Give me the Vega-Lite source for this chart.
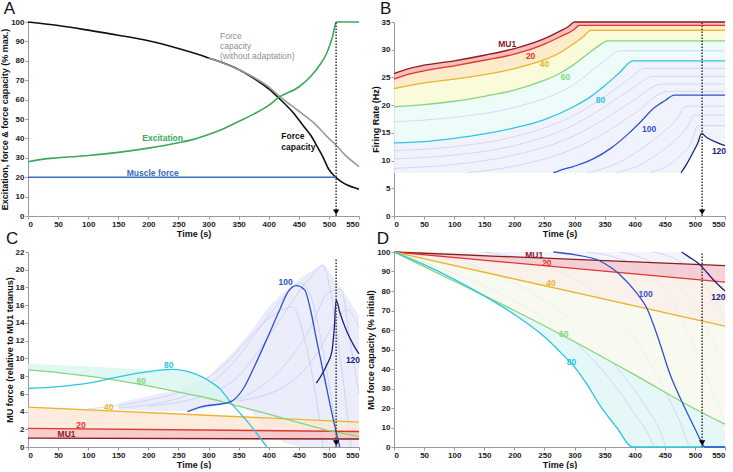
{
"$schema": "https://vega.github.io/schema/vega-lite/v6.json",
"background": "white",
"padding": {"left": 0, "top": 0, "right": 2, "bottom": 0},
"bounds": "flush",
"columns": 2,
"spacing": {"row": 36, "column": 35},
"datasets": {
"A": [
{"s":"Force","t":0,"v":100},{"s":"Force","t":50,"v":98.2},{"s":"Force","t":100,"v":95.8},{"s":"Force","t":150,"v":93.2},{"s":"Force","t":200,"v":90.3},{"s":"Force","t":250,"v":86.3},{"s":"Force","t":300,"v":81.5},{"s":"Force","t":350,"v":75.5},{"s":"Force","t":375,"v":71},{"s":"Force","t":400,"v":65.5},{"s":"Force","t":416,"v":61},{"s":"Force","t":440,"v":53.5},{"s":"Force","t":460,"v":45.5},{"s":"Force","t":470,"v":41.5},{"s":"Force","t":482,"v":35},{"s":"Force","t":490,"v":30.5},{"s":"Force","t":499,"v":24.5},{"s":"Force","t":505,"v":22},{"s":"Force","t":512,"v":19.8},{"s":"Force","t":525,"v":16.8},{"s":"Force","t":540,"v":14.8},{"s":"Force","t":550,"v":13.8},
{"s":"ForceNA","t":300,"v":81.5},{"s":"ForceNA","t":350,"v":75.5},{"s":"ForceNA","t":375,"v":71.5},{"s":"ForceNA","t":400,"v":66.5},{"s":"ForceNA","t":416,"v":62.2},{"s":"ForceNA","t":450,"v":54},{"s":"ForceNA","t":475,"v":48},{"s":"ForceNA","t":500,"v":40},{"s":"ForceNA","t":512,"v":36.5},{"s":"ForceNA","t":525,"v":32},{"s":"ForceNA","t":550,"v":25.5},
{"s":"Exc","t":0,"v":28},{"s":"Exc","t":25,"v":29.3},{"s":"Exc","t":50,"v":30},{"s":"Exc","t":100,"v":31.2},{"s":"Exc","t":150,"v":32.8},{"s":"Exc","t":200,"v":35},{"s":"Exc","t":250,"v":37.8},{"s":"Exc","t":275,"v":39.5},{"s":"Exc","t":300,"v":42},{"s":"Exc","t":325,"v":45},{"s":"Exc","t":350,"v":48.7},{"s":"Exc","t":375,"v":52.5},{"s":"Exc","t":400,"v":57},{"s":"Exc","t":416,"v":61},{"s":"Exc","t":450,"v":66.5},{"s":"Exc","t":470,"v":72},{"s":"Exc","t":485,"v":78},{"s":"Exc","t":495,"v":83},{"s":"Exc","t":502,"v":88.5},{"s":"Exc","t":507,"v":93.5},{"s":"Exc","t":510,"v":98},{"s":"Exc","t":512,"v":100},{"s":"Exc","t":550,"v":100},
{"s":"Muscle","t":0,"v":20},{"s":"Muscle","t":512,"v":20}
],
"Alab": [
{"s":"ForceNA","t":319,"v":92.7,"text":"Force"},{"s":"ForceNA","t":319,"v":87.6,"text":"capacity"},{"s":"ForceNA","t":319,"v":82.4,"text":"(without adaptation)"},
{"s":"Exc","t":190,"v":40.4,"text":"Excitation"},
{"s":"Force","t":421,"v":41,"text":"Force"},{"s":"Force","t":421,"v":35.5,"text":"capacity"},
{"s":"Muscle","t":164,"v":22.3,"text":"Muscle force"}
],
"B": [
{"s":"MU1","t":0,"v":25.7},{"s":"MU1","t":25,"v":26.6},{"s":"MU1","t":50,"v":27.2},{"s":"MU1","t":100,"v":28},{"s":"MU1","t":150,"v":29},{"s":"MU1","t":200,"v":30.2},{"s":"MU1","t":225,"v":31},{"s":"MU1","t":250,"v":32},{"s":"MU1","t":275,"v":33.3},{"s":"MU1","t":290,"v":34.2},{"s":"MU1","t":300,"v":35},{"s":"MU1","t":550,"v":35},
{"s":"MU20","t":0,"v":24.7},{"s":"MU20","t":25,"v":25.6},{"s":"MU20","t":50,"v":26.2},{"s":"MU20","t":100,"v":27.1},{"s":"MU20","t":150,"v":28.1},{"s":"MU20","t":200,"v":29.2},{"s":"MU20","t":250,"v":31},{"s":"MU20","t":275,"v":32.3},{"s":"MU20","t":300,"v":33.7},{"s":"MU20","t":308,"v":34.4},{"s":"MU20","t":550,"v":34.4},
{"s":"MU40","t":0,"v":23},{"s":"MU40","t":50,"v":24},{"s":"MU40","t":100,"v":24.7},{"s":"MU40","t":150,"v":25.5},{"s":"MU40","t":200,"v":26.6},{"s":"MU40","t":250,"v":28.2},{"s":"MU40","t":275,"v":29.4},{"s":"MU40","t":300,"v":31.2},{"s":"MU40","t":315,"v":32.4},{"s":"MU40","t":327,"v":33.5},{"s":"MU40","t":550,"v":33.5},
{"s":"MU60","t":0,"v":19.7},{"s":"MU60","t":50,"v":20.1},{"s":"MU60","t":100,"v":20.7},{"s":"MU60","t":150,"v":21.6},{"s":"MU60","t":200,"v":22.7},{"s":"MU60","t":250,"v":24.5},{"s":"MU60","t":275,"v":25.7},{"s":"MU60","t":300,"v":27.4},{"s":"MU60","t":325,"v":29.5},{"s":"MU60","t":340,"v":30.7},{"s":"MU60","t":355,"v":31.6},{"s":"MU60","t":550,"v":31.6},
{"s":"MU80","t":0,"v":13.2},{"s":"MU80","t":50,"v":13.4},{"s":"MU80","t":100,"v":14},{"s":"MU80","t":150,"v":14.8},{"s":"MU80","t":200,"v":15.9},{"s":"MU80","t":250,"v":17.4},{"s":"MU80","t":300,"v":19.8},{"s":"MU80","t":325,"v":21.4},{"s":"MU80","t":350,"v":23.5},{"s":"MU80","t":375,"v":25.9},{"s":"MU80","t":397,"v":28},{"s":"MU80","t":550,"v":28},
{"s":"MU100","t":265,"v":7.8},{"s":"MU100","t":275,"v":8.2},{"s":"MU100","t":300,"v":9},{"s":"MU100","t":331,"v":10.3},{"s":"MU100","t":360,"v":12.2},{"s":"MU100","t":386,"v":14.5},{"s":"MU100","t":410,"v":17},{"s":"MU100","t":430,"v":19.3},{"s":"MU100","t":450,"v":20.8},{"s":"MU100","t":466,"v":21.8},{"s":"MU100","t":550,"v":21.8},
{"s":"MU120","t":477,"v":7.8},{"s":"MU120","t":487,"v":9.5},{"s":"MU120","t":497,"v":11.5},{"s":"MU120","t":505,"v":13.2},{"s":"MU120","t":511,"v":14.9},{"s":"MU120","t":519,"v":14.2},{"s":"MU120","t":536,"v":13.3},{"s":"MU120","t":550,"v":12.7}
],
"Blab": [
{"s":"MU1","t":188,"v":31,"text":"MU1"},{"s":"MU20","t":227,"v":28.9,"text":"20"},{"s":"MU40","t":250,"v":27.4,"text":"40"},{"s":"MU60","t":285,"v":25,"text":"60"},{"s":"MU80","t":343,"v":21,"text":"80"},{"s":"MU100","t":424,"v":15.7,"text":"100"},{"s":"MU120","t":540,"v":11.8,"text":"120"}
],
"Bband": [
{"t":0,"a":25.7,"b":24.7,"c":23,"d":19.7,"e":13.2},
{"t":50,"a":27.2,"b":26.2,"c":24,"d":20.1,"e":13.4},
{"t":100,"a":28,"b":27.1,"c":24.7,"d":20.7,"e":14},
{"t":150,"a":29,"b":28.1,"c":25.5,"d":21.6,"e":14.8},
{"t":200,"a":30.2,"b":29.2,"c":26.6,"d":22.7,"e":15.9},
{"t":250,"a":32,"b":31,"c":28.2,"d":24.5,"e":17.4},
{"t":275,"a":33.3,"b":32.3,"c":29.4,"d":25.7,"e":18.5},
{"t":300,"a":35,"b":33.7,"c":31.2,"d":27.4,"e":19.8},
{"t":310,"a":35,"b":34.4,"c":32,"d":28.2,"e":20.4},
{"t":327,"a":35,"b":34.4,"c":33.5,"d":29.6,"e":21.5},
{"t":355,"a":35,"b":34.4,"c":33.5,"d":31.6,"e":24},
{"t":397,"a":35,"b":34.4,"c":33.5,"d":31.6,"e":28},
{"t":550,"a":35,"b":34.4,"c":33.5,"d":31.6,"e":28}
],
"Blow": [
{"t":0,"lo":7.8,"hi":13.2},{"t":50,"lo":7.8,"hi":13.4},{"t":100,"lo":7.8,"hi":14},{"t":150,"lo":7.8,"hi":14.8},{"t":200,"lo":7.8,"hi":15.9},{"t":250,"lo":7.8,"hi":17.4},{"t":300,"lo":7.8,"hi":19.8},{"t":327,"lo":7.8,"hi":21.5},{"t":355,"lo":7.8,"hi":24},{"t":397,"lo":7.8,"hi":28},{"t":477,"lo":7.8,"hi":28},{"t":487,"lo":9.5,"hi":28},{"t":497,"lo":11.5,"hi":28},{"t":505,"lo":13.2,"hi":28},{"t":511,"lo":14.9,"hi":28},{"t":519,"lo":14.2,"hi":28},{"t":536,"lo":13.3,"hi":28},{"t":550,"lo":12.7,"hi":28}
],
"Bbg": [
{"id":"b70","t":0,"v":17},{"id":"b70","t":100,"v":17.8},{"id":"b70","t":200,"v":19.6},{"id":"b70","t":300,"v":23.8},{"id":"b70","t":350,"v":28},{"id":"b70","t":375,"v":29.8},{"id":"b70","t":550,"v":29.8},
{"id":"b85","t":0,"v":11.8},{"id":"b85","t":100,"v":12.5},{"id":"b85","t":200,"v":14.3},{"id":"b85","t":300,"v":18.2},{"id":"b85","t":350,"v":21.5},{"id":"b85","t":400,"v":25.5},{"id":"b85","t":415,"v":26.6},{"id":"b85","t":550,"v":26.6},
{"id":"b90","t":0,"v":10.3},{"id":"b90","t":100,"v":11},{"id":"b90","t":200,"v":12.7},{"id":"b90","t":300,"v":16.5},{"id":"b90","t":350,"v":19.7},{"id":"b90","t":400,"v":23.3},{"id":"b90","t":430,"v":25.2},{"id":"b90","t":550,"v":25.2},
{"id":"b95","t":0,"v":8.6},{"id":"b95","t":100,"v":9.3},{"id":"b95","t":200,"v":11},{"id":"b95","t":300,"v":14.5},{"id":"b95","t":350,"v":17.5},{"id":"b95","t":400,"v":21},{"id":"b95","t":445,"v":23.8},{"id":"b95","t":550,"v":23.8},
{"id":"b98","t":120,"v":7.8},{"id":"b98","t":200,"v":9},{"id":"b98","t":300,"v":12.2},{"id":"b98","t":350,"v":15},{"id":"b98","t":400,"v":18.5},{"id":"b98","t":455,"v":22.5},{"id":"b98","t":550,"v":22.5},
{"id":"b105","t":320,"v":7.8},{"id":"b105","t":360,"v":9},{"id":"b105","t":400,"v":11.3},{"id":"b105","t":440,"v":14.5},{"id":"b105","t":470,"v":17.5},{"id":"b105","t":485,"v":19.8},{"id":"b105","t":550,"v":19.8},
{"id":"b110","t":370,"v":7.8},{"id":"b110","t":400,"v":8.8},{"id":"b110","t":440,"v":11.3},{"id":"b110","t":470,"v":14},{"id":"b110","t":490,"v":16.5},{"id":"b110","t":498,"v":18.2},{"id":"b110","t":550,"v":18.2},
{"id":"b115","t":425,"v":7.8},{"id":"b115","t":450,"v":8.8},{"id":"b115","t":475,"v":10.8},{"id":"b115","t":495,"v":13.5},{"id":"b115","t":505,"v":16.3},{"id":"b115","t":550,"v":16.3}
],
"C": [
{"s":"MU1","t":0,"v":1.0},{"s":"MU1","t":550,"v":0.9},
{"s":"MU20","t":0,"v":2.1},{"s":"MU20","t":550,"v":1.75},
{"s":"MU40","t":0,"v":4.5},{"s":"MU40","t":550,"v":2.8},
{"s":"MU60","t":0,"v":8.7},{"s":"MU60","t":50,"v":8.4},{"s":"MU60","t":100,"v":8.0},{"s":"MU60","t":150,"v":7.5},{"s":"MU60","t":200,"v":6.9},{"s":"MU60","t":250,"v":6.2},{"s":"MU60","t":300,"v":5.5},{"s":"MU60","t":350,"v":4.6},{"s":"MU60","t":400,"v":3.7},{"s":"MU60","t":450,"v":2.75},{"s":"MU60","t":500,"v":1.85},{"s":"MU60","t":550,"v":1.2},
{"s":"MU80","t":0,"v":6.6},{"s":"MU80","t":50,"v":6.8},{"s":"MU80","t":100,"v":7.2},{"s":"MU80","t":150,"v":7.9},{"s":"MU80","t":200,"v":8.5},{"s":"MU80","t":240,"v":8.75},{"s":"MU80","t":260,"v":8.6},{"s":"MU80","t":280,"v":8.2},{"s":"MU80","t":300,"v":7.5},{"s":"MU80","t":320,"v":6.5},{"s":"MU80","t":336,"v":5.1},{"s":"MU80","t":369,"v":2.5},{"s":"MU80","t":397,"v":0},
{"s":"MU100","t":265,"v":4.0},{"s":"MU100","t":286,"v":4.5},{"s":"MU100","t":336,"v":5.1},{"s":"MU100","t":358,"v":6.6},{"s":"MU100","t":377,"v":9.2},{"s":"MU100","t":397,"v":12.2},{"s":"MU100","t":419,"v":15.6},{"s":"MU100","t":432,"v":17.5},{"s":"MU100","t":446,"v":18.2},{"s":"MU100","t":460,"v":17.7},{"s":"MU100","t":469,"v":15.6},{"s":"MU100","t":480,"v":11.9},{"s":"MU100","t":493,"v":7.7},{"s":"MU100","t":507,"v":3.2},{"s":"MU100","t":518,"v":0},
{"s":"MU120","t":479,"v":7.2},{"s":"MU120","t":496,"v":9.2},{"s":"MU120","t":505,"v":10.8},{"s":"MU120","t":509,"v":13.5},{"s":"MU120","t":512,"v":16.6},{"s":"MU120","t":518,"v":15.2},{"s":"MU120","t":530,"v":13},{"s":"MU120","t":541,"v":11.5},{"s":"MU120","t":550,"v":10.5}
],
"Clab": [
{"s":"MU1","t":64,"v":1.45,"text":"MU1"},{"s":"MU20","t":88,"v":2.45,"text":"20"},{"s":"MU40","t":134,"v":4.5,"text":"40"},{"s":"MU60","t":188,"v":7.4,"text":"60"},{"s":"MU80","t":234,"v":9.2,"text":"80"},{"s":"MU100","t":428,"v":18.6,"text":"100"},{"s":"MU120","t":540,"v":9.8,"text":"120"}
],
"Cband": [
{"band":"pink","t":0,"lo":1.0,"hi":2.1},{"band":"pink","t":550,"lo":0.9,"hi":1.75},
{"band":"peach","t":0,"lo":2.1,"hi":4.5},{"band":"peach","t":550,"lo":1.75,"hi":2.8},
{"band":"cyan","t":0,"lo":8.7,"hi":9.4},{"band":"cyan","t":100,"lo":8.0,"hi":9.1},{"band":"cyan","t":200,"lo":6.9,"hi":8.7},{"band":"cyan","t":240,"lo":6.45,"hi":8.75},{"band":"cyan","t":280,"lo":5.8,"hi":8.2},{"band":"cyan","t":300,"lo":5.5,"hi":7.5},{"band":"cyan","t":320,"lo":5.15,"hi":6.5},{"band":"cyan","t":336,"lo":4.9,"hi":5.1},
{"band":"mesh","t":150,"lo":4.2,"hi":5.0},{"band":"mesh","t":250,"lo":4.0,"hi":6.5},{"band":"mesh","t":300,"lo":4.4,"hi":8.0},{"band":"mesh","t":341,"lo":5.0,"hi":10.7},{"band":"mesh","t":370,"lo":4.0,"hi":13.0},{"band":"mesh","t":397,"lo":2.0,"hi":15.6},{"band":"mesh","t":425,"lo":0.5,"hi":17.5},{"band":"mesh","t":452,"lo":0,"hi":19.0},{"band":"mesh","t":490,"lo":0,"hi":20.7},{"band":"mesh","t":520,"lo":0,"hi":18.0},{"band":"mesh","t":550,"lo":0,"hi":14.8}
],
"Cbg": [
{"id":"m1","t":150,"v":4.4},{"id":"m1","t":250,"v":5.5},{"id":"m1","t":300,"v":7},{"id":"m1","t":341,"v":9.5},{"id":"m1","t":380,"v":13},{"id":"m1","t":420,"v":16.5},{"id":"m1","t":452,"v":18.5},{"id":"m1","t":470,"v":17},{"id":"m1","t":490,"v":11},{"id":"m1","t":505,"v":5},{"id":"m1","t":515,"v":0},
{"id":"m2","t":200,"v":4.6},{"id":"m2","t":300,"v":6},{"id":"m2","t":350,"v":8},{"id":"m2","t":390,"v":11.5},{"id":"m2","t":430,"v":15.5},{"id":"m2","t":470,"v":19.2},{"id":"m2","t":490,"v":20.5},{"id":"m2","t":500,"v":18.5},{"id":"m2","t":515,"v":12},{"id":"m2","t":530,"v":4},{"id":"m2","t":537,"v":0},
{"id":"m3","t":300,"v":4.6},{"id":"m3","t":380,"v":6.5},{"id":"m3","t":430,"v":9.5},{"id":"m3","t":470,"v":13.5},{"id":"m3","t":500,"v":17.5},{"id":"m3","t":520,"v":17.8},{"id":"m3","t":535,"v":12},{"id":"m3","t":550,"v":6},
{"id":"m4","t":350,"v":5.2},{"id":"m4","t":430,"v":7},{"id":"m4","t":480,"v":10.5},{"id":"m4","t":510,"v":14},{"id":"m4","t":530,"v":15.5},{"id":"m4","t":550,"v":13.5},
{"id":"m5","t":100,"v":4.3},{"id":"m5","t":200,"v":5.3},{"id":"m5","t":280,"v":7},{"id":"m5","t":330,"v":9.5},{"id":"m5","t":370,"v":12.5},{"id":"m5","t":410,"v":15},{"id":"m5","t":440,"v":15.8},{"id":"m5","t":460,"v":12},{"id":"m5","t":480,"v":5},{"id":"m5","t":490,"v":0}
],
"D": [
{"s":"MU1","t":0,"v":100},{"s":"MU1","t":550,"v":93},
{"s":"MU20","t":0,"v":100},{"s":"MU20","t":550,"v":84.5},
{"s":"MU40","t":0,"v":100},{"s":"MU40","t":550,"v":62},
{"s":"MU60","t":0,"v":100},{"s":"MU60","t":100,"v":85},{"s":"MU60","t":200,"v":70},{"s":"MU60","t":300,"v":54},{"s":"MU60","t":400,"v":37},{"s":"MU60","t":500,"v":19.5},{"s":"MU60","t":550,"v":11.7},
{"s":"MU80","t":0,"v":100},{"s":"MU80","t":50,"v":93.5},{"s":"MU80","t":100,"v":86},{"s":"MU80","t":150,"v":77.5},{"s":"MU80","t":200,"v":68},{"s":"MU80","t":250,"v":56.5},{"s":"MU80","t":280,"v":47.5},{"s":"MU80","t":300,"v":41},{"s":"MU80","t":320,"v":32.5},{"s":"MU80","t":342,"v":21.5},{"s":"MU80","t":370,"v":10},{"s":"MU80","t":397,"v":0},{"s":"MU80","t":550,"v":0},
{"s":"MU100","t":265,"v":100},{"s":"MU100","t":300,"v":98.6},{"s":"MU100","t":342,"v":95.4},{"s":"MU100","t":375,"v":88.5},{"s":"MU100","t":403,"v":79},{"s":"MU100","t":420,"v":71.3},{"s":"MU100","t":439,"v":55.8},{"s":"MU100","t":459,"v":37},{"s":"MU100","t":481,"v":21.5},{"s":"MU100","t":500,"v":9.4},{"s":"MU100","t":511,"v":2.6},{"s":"MU100","t":517,"v":0},{"s":"MU100","t":550,"v":0},
{"s":"MU120","t":478,"v":100},{"s":"MU120","t":490,"v":97.5},{"s":"MU120","t":508,"v":93.6},{"s":"MU120","t":520,"v":89.5},{"s":"MU120","t":533,"v":85},{"s":"MU120","t":550,"v":80}
],
"Dlab": [
{"s":"MU1","t":233,"v":98.5,"text":"MU1"},{"s":"MU20","t":254,"v":94.2,"text":"20"},{"s":"MU40","t":261,"v":84,"text":"40"},{"s":"MU60","t":282,"v":58.1,"text":"60"},{"s":"MU80","t":295,"v":43.5,"text":"80"},{"s":"MU100","t":418,"v":78.4,"text":"100"},{"s":"MU120","t":539,"v":77,"text":"120"}
],
"Dband": [
{"band":"lav1","t":0,"lo":100,"hi":100},{"band":"lav1","t":50,"lo":93.5,"hi":100},{"band":"lav1","t":100,"lo":86,"hi":100},{"band":"lav1","t":150,"lo":77.5,"hi":100},{"band":"lav1","t":200,"lo":68,"hi":100},{"band":"lav1","t":250,"lo":56.5,"hi":100},{"band":"lav1","t":265,"lo":52,"hi":100},{"band":"lav1","t":300,"lo":41,"hi":98.6},{"band":"lav1","t":342,"lo":21.5,"hi":95.4},{"band":"lav1","t":375,"lo":7,"hi":88.5},{"band":"lav1","t":397,"lo":0,"hi":81},{"band":"lav1","t":420,"lo":0,"hi":71.3},{"band":"lav1","t":439,"lo":0,"hi":55.8},{"band":"lav1","t":459,"lo":0,"hi":37},{"band":"lav1","t":481,"lo":0,"hi":21.5},{"band":"lav1","t":500,"lo":0,"hi":9.4},{"band":"lav1","t":511,"lo":0,"hi":2.6},{"band":"lav1","t":517,"lo":0,"hi":0},
{"band":"lav2","t":265,"lo":100,"hi":100},{"band":"lav2","t":300,"lo":98.6,"hi":100},{"band":"lav2","t":342,"lo":95.4,"hi":100},{"band":"lav2","t":375,"lo":88.5,"hi":100},{"band":"lav2","t":403,"lo":79,"hi":100},{"band":"lav2","t":420,"lo":71.3,"hi":100},{"band":"lav2","t":439,"lo":55.8,"hi":100},{"band":"lav2","t":459,"lo":37,"hi":100},{"band":"lav2","t":478,"lo":23,"hi":100},{"band":"lav2","t":490,"lo":15.5,"hi":97.5},{"band":"lav2","t":500,"lo":9.4,"hi":95.5},{"band":"lav2","t":511,"lo":2.6,"hi":93},{"band":"lav2","t":517,"lo":0,"hi":91.3},{"band":"lav2","t":533,"lo":0,"hi":85},{"band":"lav2","t":550,"lo":0,"hi":80},
{"band":"cyan","t":0,"lo":100,"hi":100},{"band":"cyan","t":50,"lo":93.5,"hi":92.5},{"band":"cyan","t":100,"lo":86,"hi":85},{"band":"cyan","t":150,"lo":77.5,"hi":77.5},{"band":"cyan","t":200,"lo":68,"hi":70},{"band":"cyan","t":250,"lo":56.5,"hi":62},{"band":"cyan","t":300,"lo":41,"hi":54},{"band":"cyan","t":342,"lo":21.5,"hi":46.9},{"band":"cyan","t":370,"lo":10,"hi":42.1},{"band":"cyan","t":397,"lo":0,"hi":37.5},{"band":"cyan","t":450,"lo":0,"hi":28.3},{"band":"cyan","t":500,"lo":0,"hi":19.5},{"band":"cyan","t":550,"lo":0,"hi":11.7},
{"band":"yg","t":0,"lo":100,"hi":100},{"band":"yg","t":100,"lo":85,"hi":93.1},{"band":"yg","t":200,"lo":70,"hi":86.2},{"band":"yg","t":300,"lo":54,"hi":79.3},{"band":"yg","t":400,"lo":37,"hi":72.4},{"band":"yg","t":500,"lo":19.5,"hi":65.5},{"band":"yg","t":550,"lo":11.7,"hi":62},
{"band":"peach","t":0,"lo":100,"hi":100},{"band":"peach","t":550,"lo":62,"hi":84.5},
{"band":"pink","t":0,"lo":100,"hi":100},{"band":"pink","t":550,"lo":84.5,"hi":93}
],
"Dbg": [
{"id":"d85","t":0,"v":100},{"id":"d85","t":100,"v":89},{"id":"d85","t":200,"v":75},{"id":"d85","t":300,"v":54},{"id":"d85","t":350,"v":38},{"id":"d85","t":400,"v":17},{"id":"d85","t":425,"v":5},{"id":"d85","t":432,"v":0},
{"id":"d90","t":40,"v":100},{"id":"d90","t":150,"v":91},{"id":"d90","t":250,"v":75},{"id":"d90","t":330,"v":55},{"id":"d90","t":380,"v":37},{"id":"d90","t":420,"v":20},{"id":"d90","t":445,"v":6},{"id":"d90","t":452,"v":0},
{"id":"d95","t":150,"v":100},{"id":"d95","t":250,"v":93},{"id":"d95","t":330,"v":80},{"id":"d95","t":380,"v":64},{"id":"d95","t":420,"v":46},{"id":"d95","t":455,"v":26},{"id":"d95","t":480,"v":9},{"id":"d95","t":490,"v":0},
{"id":"d105","t":320,"v":100},{"id":"d105","t":380,"v":96},{"id":"d105","t":420,"v":90},{"id":"d105","t":460,"v":76},{"id":"d105","t":500,"v":50},{"id":"d105","t":530,"v":28},{"id":"d105","t":550,"v":12},
{"id":"d110","t":375,"v":100},{"id":"d110","t":420,"v":96},{"id":"d110","t":460,"v":88},{"id":"d110","t":500,"v":72},{"id":"d110","t":530,"v":55},{"id":"d110","t":550,"v":42},
{"id":"d115","t":430,"v":100},{"id":"d115","t":470,"v":96},{"id":"d115","t":500,"v":89},{"id":"d115","t":530,"v":77},{"id":"d115","t":550,"v":66}
]
},
"concat": [
{
"width": 331, "height": 194,
"title": {"text": "A", "anchor": "start", "frame": "bounds", "fontSize": 17, "fontWeight": "normal", "offset": 0, "dx": 3, "color": "#111"},
"encoding": {
"x": {"field": "t", "type": "quantitative", "scale": {"domain": [0, 550], "nice": false}, "axis": {"tickCount": 11}, "title": "Time (s)"},
"y": {"field": "v", "type": "quantitative", "scale": {"domain": [0, 100], "nice": false}, "axis": {"tickCount": 10}, "title": "Excitation, force & force capacity (% max.)"}
},
"layer": [
{"data": {"name": "A"}, "mark": {"type": "line", "strokeWidth": 1.6, "interpolate": "monotone"},
 "encoding": {"color": {"field": "s", "type": "nominal", "scale": {"domain": ["MU1","MU20","MU40","MU60","MU80","MU100","MU120","Force","ForceNA","Exc","Muscle"], "range": ["#8a1c1c","#e3342c","#e9b52a","#86d67c","#2cc6e2","#2f52cf","#1d2380","#111111","#9a9a9a","#3aa95c","#3b6cc2"]}, "legend": null}}},
{"data": {"values": [{"t": 512, "v": 0, "v2": 100}]}, "mark": {"type": "rule", "strokeDash": [1.5, 1.5], "strokeWidth": 1.6, "color": "#444"}, "encoding": {"y2": {"field": "v2"}}},
{"data": {"values": [{"t": 512, "v": 2}]}, "mark": {"type": "point", "shape": "triangle-down", "filled": true, "size": 40, "color": "#000", "opacity": 1}},
{"data": {"name": "Alab"}, "transform": [{"filter": "datum.s != 'ForceNA'"}], "mark": {"type": "text", "align": "left", "baseline": "middle", "fontSize": 8.5, "fontWeight": "bold"},
 "encoding": {"text": {"field": "text"}, "color": {"field": "s", "type": "nominal", "scale": {"domain": ["MU1","MU20","MU40","MU60","MU80","MU100","MU120","Force","ForceNA","Exc","Muscle"], "range": ["#8a1c1c","#e3342c","#e9b52a","#86d67c","#2cc6e2","#2f52cf","#1d2380","#111111","#9a9a9a","#3aa95c","#3b6cc2"]}, "legend": null}}},
{"data": {"name": "Alab"}, "transform": [{"filter": "datum.s == 'ForceNA'"}], "mark": {"type": "text", "align": "left", "baseline": "middle", "fontSize": 8.5, "fontWeight": "normal", "color": "#8f8f8f"},
 "encoding": {"text": {"field": "text"}}}
]
},
{
"width": 331, "height": 194,
"title": {"text": "B", "anchor": "start", "frame": "bounds", "fontSize": 17, "fontWeight": "normal", "offset": 0, "dx": 9, "color": "#111"},
"encoding": {
"x": {"field": "t", "type": "quantitative", "scale": {"domain": [0, 550], "nice": false}, "axis": {"tickCount": 11}, "title": "Time (s)"},
"y": {"field": "v", "type": "quantitative", "scale": {"domain": [0, 35], "nice": false}, "axis": {"tickCount": 7}, "title": "Firing Rate (Hz)"}
},
"layer": [
{"data": {"name": "Blow"}, "mark": {"type": "area", "color": "#eef0fb", "opacity": 0.8}, "encoding": {"y": {"field": "lo", "type": "quantitative", "title": "Firing Rate (Hz)"}, "y2": {"field": "hi"}}},
{"data": {"name": "Bband"}, "mark": {"type": "area", "color": "#e9faf8", "opacity": 0.8}, "encoding": {"y": {"field": "e", "type": "quantitative", "title": "Firing Rate (Hz)"}, "y2": {"field": "d"}}},
{"data": {"name": "Bbg"}, "mark": {"type": "line", "strokeWidth": 0.5, "color": "#b3bbec", "interpolate": "monotone"}, "encoding": {"detail": {"field": "id"}}},
{"data": {"name": "Bband"}, "mark": {"type": "area", "color": "#f8fad2", "opacity": 0.8}, "encoding": {"y": {"field": "d", "type": "quantitative", "title": "Firing Rate (Hz)"}, "y2": {"field": "c"}}},
{"data": {"name": "Bband"}, "mark": {"type": "area", "color": "#fde6bb", "opacity": 0.8}, "encoding": {"y": {"field": "c", "type": "quantitative", "title": "Firing Rate (Hz)"}, "y2": {"field": "b"}}},
{"data": {"name": "Bband"}, "mark": {"type": "area", "color": "#f4acac", "opacity": 0.8}, "encoding": {"y": {"field": "b", "type": "quantitative", "title": "Firing Rate (Hz)"}, "y2": {"field": "a"}}},
{"data": {"name": "B"}, "mark": {"type": "line", "strokeWidth": 1.3, "interpolate": "monotone"},
 "encoding": {"color": {"field": "s", "type": "nominal", "scale": {"domain": ["MU1","MU20","MU40","MU60","MU80","MU100","MU120","Force","ForceNA","Exc","Muscle"], "range": ["#8a1c1c","#e3342c","#e9b52a","#86d67c","#2cc6e2","#2f52cf","#1d2380","#111111","#9a9a9a","#3aa95c","#3b6cc2"]}, "legend": null}}},
{"data": {"values": [{"t": 512, "v": 0, "v2": 35}]}, "mark": {"type": "rule", "strokeDash": [1.5, 1.5], "strokeWidth": 1.6, "color": "#444"}, "encoding": {"y2": {"field": "v2"}}},
{"data": {"values": [{"t": 512, "v": 0.7}]}, "mark": {"type": "point", "shape": "triangle-down", "filled": true, "size": 40, "color": "#000", "opacity": 1}},
{"data": {"name": "Blab"}, "mark": {"type": "text", "align": "center", "baseline": "middle", "fontSize": 8.5, "fontWeight": "bold"},
 "encoding": {"text": {"field": "text"}, "color": {"field": "s", "type": "nominal", "scale": {"domain": ["MU1","MU20","MU40","MU60","MU80","MU100","MU120","Force","ForceNA","Exc","Muscle"], "range": ["#8a1c1c","#e3342c","#e9b52a","#86d67c","#2cc6e2","#2f52cf","#1d2380","#111111","#9a9a9a","#3aa95c","#3b6cc2"]}, "legend": null}}}
]
},
{
"width": 331, "height": 195,
"title": {"text": "C", "anchor": "start", "frame": "bounds", "fontSize": 17, "fontWeight": "normal", "offset": 0, "dx": 1, "color": "#111"},
"encoding": {
"x": {"field": "t", "type": "quantitative", "scale": {"domain": [0, 550], "nice": false}, "axis": {"tickCount": 11}, "title": "Time (s)"},
"y": {"field": "v", "type": "quantitative", "scale": {"domain": [0, 22], "nice": false}, "axis": {"tickCount": 11}, "title": "MU force (relative to MU1 tetanus)"}
},
"layer": [
{"data": {"name": "Cband"}, "transform": [{"filter": "datum.band == 'mesh'"}], "mark": {"type": "area", "color": "#e6e9fa", "opacity": 0.8}, "encoding": {"y": {"field": "lo", "type": "quantitative", "title": "MU force (relative to MU1 tetanus)"}, "y2": {"field": "hi"}}},
{"data": {"name": "Cbg"}, "mark": {"type": "line", "strokeWidth": 0.5, "color": "#b3bbec", "interpolate": "monotone"}, "encoding": {"detail": {"field": "id"}}},
{"data": {"name": "Cband"}, "transform": [{"filter": "datum.band == 'cyan'"}], "mark": {"type": "area", "color": "#d8f6ef", "opacity": 0.8}, "encoding": {"y": {"field": "lo", "type": "quantitative", "title": "MU force (relative to MU1 tetanus)"}, "y2": {"field": "hi"}}},
{"data": {"name": "Cband"}, "transform": [{"filter": "datum.band == 'peach'"}], "mark": {"type": "area", "color": "#fde6d6", "opacity": 0.8}, "encoding": {"y": {"field": "lo", "type": "quantitative", "title": "MU force (relative to MU1 tetanus)"}, "y2": {"field": "hi"}}},
{"data": {"name": "Cband"}, "transform": [{"filter": "datum.band == 'pink'"}], "mark": {"type": "area", "color": "#f5bfbf", "opacity": 0.8}, "encoding": {"y": {"field": "lo", "type": "quantitative", "title": "MU force (relative to MU1 tetanus)"}, "y2": {"field": "hi"}}},
{"data": {"name": "C"}, "mark": {"type": "line", "strokeWidth": 1.3, "interpolate": "monotone"},
 "encoding": {"color": {"field": "s", "type": "nominal", "scale": {"domain": ["MU1","MU20","MU40","MU60","MU80","MU100","MU120","Force","ForceNA","Exc","Muscle"], "range": ["#8a1c1c","#e3342c","#e9b52a","#86d67c","#2cc6e2","#2f52cf","#1d2380","#111111","#9a9a9a","#3aa95c","#3b6cc2"]}, "legend": null}}},
{"data": {"values": [{"t": 512, "v": 0, "v2": 21.3}]}, "mark": {"type": "rule", "strokeDash": [1.5, 1.5], "strokeWidth": 1.6, "color": "#444"}, "encoding": {"y2": {"field": "v2"}}},
{"data": {"values": [{"t": 512, "v": 0.45}]}, "mark": {"type": "point", "shape": "triangle-down", "filled": true, "size": 40, "color": "#000", "opacity": 1}},
{"data": {"name": "Clab"}, "mark": {"type": "text", "align": "center", "baseline": "middle", "fontSize": 8.5, "fontWeight": "bold"},
 "encoding": {"text": {"field": "text"}, "color": {"field": "s", "type": "nominal", "scale": {"domain": ["MU1","MU20","MU40","MU60","MU80","MU100","MU120","Force","ForceNA","Exc","Muscle"], "range": ["#8a1c1c","#e3342c","#e9b52a","#86d67c","#2cc6e2","#2f52cf","#1d2380","#111111","#9a9a9a","#3aa95c","#3b6cc2"]}, "legend": null}}}
]
},
{
"width": 331, "height": 195,
"title": {"text": "D", "anchor": "start", "frame": "bounds", "fontSize": 17, "fontWeight": "normal", "offset": 0, "dx": 10, "color": "#111"},
"encoding": {
"x": {"field": "t", "type": "quantitative", "scale": {"domain": [0, 550], "nice": false}, "axis": {"tickCount": 11}, "title": "Time (s)"},
"y": {"field": "v", "type": "quantitative", "scale": {"domain": [0, 100], "nice": false}, "axis": {"tickCount": 10}, "title": "MU force capacity (% initial)"}
},
"layer": [
{"data": {"name": "Dband"}, "transform": [{"filter": "datum.band == 'lav1'"}], "mark": {"type": "area", "color": "#eef0fb", "opacity": 0.7}, "encoding": {"y": {"field": "lo", "type": "quantitative", "title": "MU force capacity (% initial)"}, "y2": {"field": "hi"}}},
{"data": {"name": "Dband"}, "transform": [{"filter": "datum.band == 'lav2'"}], "mark": {"type": "area", "color": "#eef0fb", "opacity": 0.7}, "encoding": {"y": {"field": "lo", "type": "quantitative", "title": "MU force capacity (% initial)"}, "y2": {"field": "hi"}}},
{"data": {"name": "Dband"}, "transform": [{"filter": "datum.band == 'cyan'"}], "mark": {"type": "area", "color": "#e0f8f6", "opacity": 0.7}, "encoding": {"y": {"field": "lo", "type": "quantitative", "title": "MU force capacity (% initial)"}, "y2": {"field": "hi"}}},
{"data": {"name": "Dbg"}, "mark": {"type": "line", "strokeWidth": 0.5, "color": "#b3bbec", "interpolate": "monotone"}, "encoding": {"detail": {"field": "id"}}},
{"data": {"name": "Dband"}, "transform": [{"filter": "datum.band == 'yg'"}], "mark": {"type": "area", "color": "#fafbea", "opacity": 0.7}, "encoding": {"y": {"field": "lo", "type": "quantitative", "title": "MU force capacity (% initial)"}, "y2": {"field": "hi"}}},
{"data": {"name": "Dband"}, "transform": [{"filter": "datum.band == 'peach'"}], "mark": {"type": "area", "color": "#fdf0e4", "opacity": 0.7}, "encoding": {"y": {"field": "lo", "type": "quantitative", "title": "MU force capacity (% initial)"}, "y2": {"field": "hi"}}},
{"data": {"name": "Dband"}, "transform": [{"filter": "datum.band == 'pink'"}], "mark": {"type": "area", "color": "#f4c6cb", "opacity": 0.8}, "encoding": {"y": {"field": "lo", "type": "quantitative", "title": "MU force capacity (% initial)"}, "y2": {"field": "hi"}}},
{"data": {"name": "D"}, "mark": {"type": "line", "strokeWidth": 1.3, "interpolate": "monotone"},
 "encoding": {"color": {"field": "s", "type": "nominal", "scale": {"domain": ["MU1","MU20","MU40","MU60","MU80","MU100","MU120","Force","ForceNA","Exc","Muscle"], "range": ["#8a1c1c","#e3342c","#e9b52a","#86d67c","#2cc6e2","#2f52cf","#1d2380","#111111","#9a9a9a","#3aa95c","#3b6cc2"]}, "legend": null}}},
{"data": {"values": [{"t": 512, "v": 0, "v2": 100}]}, "mark": {"type": "rule", "strokeDash": [1.5, 1.5], "strokeWidth": 1.6, "color": "#444"}, "encoding": {"y2": {"field": "v2"}}},
{"data": {"values": [{"t": 512, "v": 2}]}, "mark": {"type": "point", "shape": "triangle-down", "filled": true, "size": 40, "color": "#000", "opacity": 1}},
{"data": {"name": "Dlab"}, "mark": {"type": "text", "align": "center", "baseline": "middle", "fontSize": 8.5, "fontWeight": "bold"},
 "encoding": {"text": {"field": "text"}, "color": {"field": "s", "type": "nominal", "scale": {"domain": ["MU1","MU20","MU40","MU60","MU80","MU100","MU120","Force","ForceNA","Exc","Muscle"], "range": ["#8a1c1c","#e3342c","#e9b52a","#86d67c","#2cc6e2","#2f52cf","#1d2380","#111111","#9a9a9a","#3aa95c","#3b6cc2"]}, "legend": null}}}
]
}
],
"config": {
"font": "Liberation Sans",
"view": {"stroke": null},
"axis": {"labelFont": "Liberation Sans", "labelFontSize": 8, "labelFontWeight": "bold", "labelColor": "#222", "titleFont": "Liberation Sans", "titleFontSize": 9, "titleFontWeight": "bold", "titleColor": "#111", "domainColor": "#9a9a9a", "tickColor": "#9a9a9a", "tickSize": 3, "labelPadding": 1, "titlePadding": 1, "grid": false},
"title": {"font": "Liberation Sans"}
}
}
